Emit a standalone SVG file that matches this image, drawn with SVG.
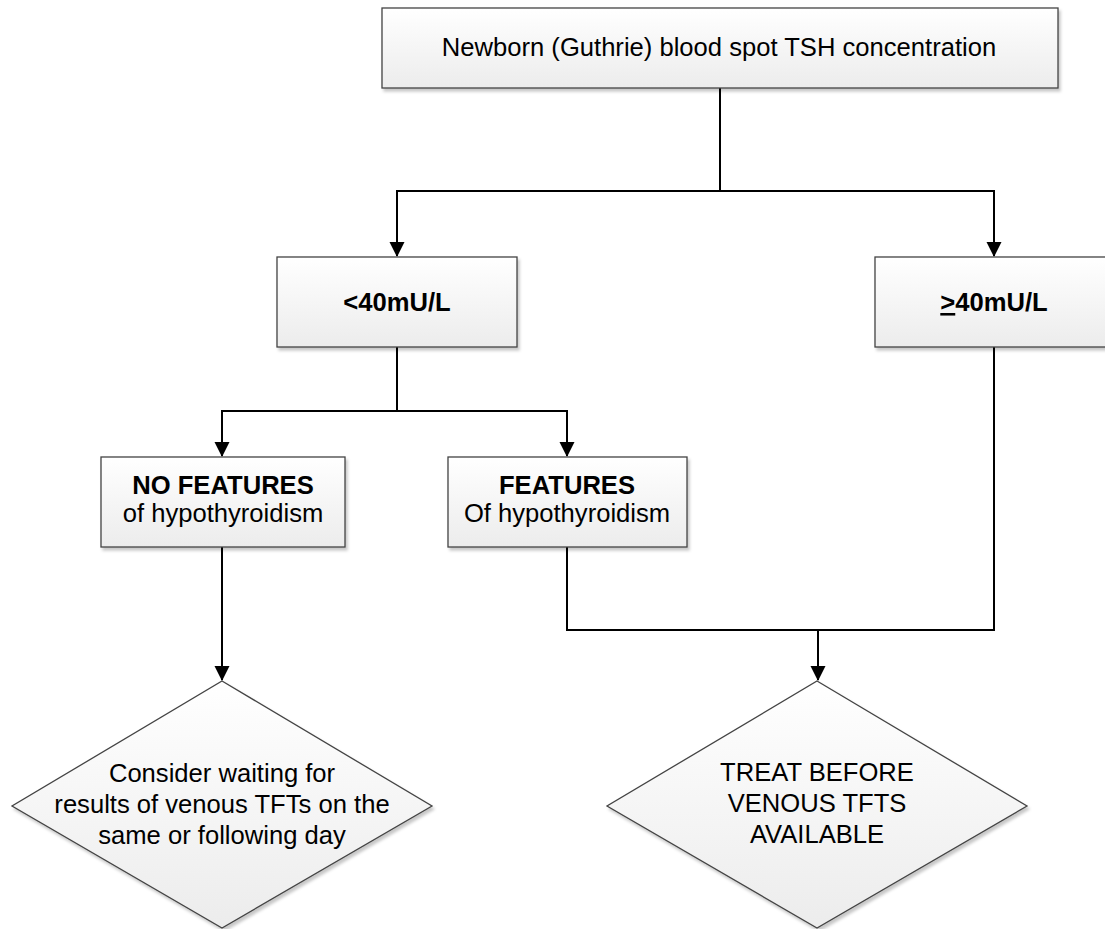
<svg xmlns="http://www.w3.org/2000/svg" width="1105" height="929" viewBox="0 0 1105 929">
<defs>
<linearGradient id="g" x1="0" y1="0" x2="0" y2="1">
<stop offset="0" stop-color="#ffffff"/>
<stop offset="1" stop-color="#ececec"/>
</linearGradient>
<filter id="sh" x="-5%" y="-5%" width="115%" height="120%">
<feDropShadow dx="2" dy="3" stdDeviation="1.5" flood-color="#000" flood-opacity="0.22"/>
</filter>
<marker id="arr" markerUnits="userSpaceOnUse" markerWidth="16" markerHeight="16" refX="14" refY="7.5" orient="auto">
<path d="M0,0 L15,7.5 L0,15 z" fill="#000"/>
</marker>
</defs>
<style>
.box{fill:url(#g);stroke:#444;stroke-width:1.3;filter:url(#sh)}
.t{font-family:"Liberation Sans",Arial,sans-serif;font-size:25.6px;fill:#000;text-anchor:middle}
.b{font-weight:bold}
.c{fill:none;stroke:#000;stroke-width:2}
</style>
<rect width="1105" height="929" fill="#fff"/>
<g id="connectors">
<polyline class="c" points="720,88 720,191"/>
<polyline class="c" points="720,191 397,191 397,256" marker-end="url(#arr)"/>
<polyline class="c" points="720,191 994,191 994,256" marker-end="url(#arr)"/>
<polyline class="c" points="397,347 397,411"/>
<polyline class="c" points="397,411 222,411 222,456" marker-end="url(#arr)"/>
<polyline class="c" points="397,411 567,411 567,456" marker-end="url(#arr)"/>
<polyline class="c" points="222,547 222,680" marker-end="url(#arr)"/>
<polyline class="c" points="567,547 567,630 994,630 994,347"/>
<polyline class="c" points="818,630 818,680" marker-end="url(#arr)"/>
</g>
<g id="top">
<rect class="box" x="382" y="8" width="676" height="80"/>
<text class="t" x="719" y="56">Newborn (Guthrie) blood spot TSH concentration</text>
</g>
<g id="lt40">
<rect class="box" x="277" y="257" width="240" height="90"/>
<text class="t b" x="397" y="311">&lt;40mU/L</text>
</g>
<g id="ge40">
<rect class="box" x="875" y="257" width="240" height="90"/>
<text class="t b" x="994" y="311"><tspan text-decoration="underline">&gt;</tspan>40mU/L</text>
</g>
<g id="nofeatures">
<rect class="box" x="101" y="457" width="244" height="90"/>
<text class="t" x="223" y="494"><tspan class="b">NO FEATURES</tspan></text>
<text class="t" x="223" y="522">of hypothyroidism</text>
</g>
<g id="features">
<rect class="box" x="448" y="457" width="239" height="90"/>
<text class="t" x="567" y="494"><tspan class="b">FEATURES</tspan></text>
<text class="t" x="567" y="522">Of hypothyroidism</text>
</g>
<g id="consider">
<polygon class="box" points="222,681 432,806 222,928 12,806"/>
<text class="t" x="222" y="782">Consider waiting for</text>
<text class="t" x="222" y="812.5">results of venous TFTs on the</text>
<text class="t" x="222" y="843.5">same or following day</text>
</g>
<g id="treat">
<polygon class="box" points="817,681 1027,806 817,928 607,806"/>
<text class="t" x="817" y="781">TREAT BEFORE</text>
<text class="t" x="817" y="812">VENOUS TFTS</text>
<text class="t" x="817" y="843">AVAILABLE</text>
</g>
</svg>
